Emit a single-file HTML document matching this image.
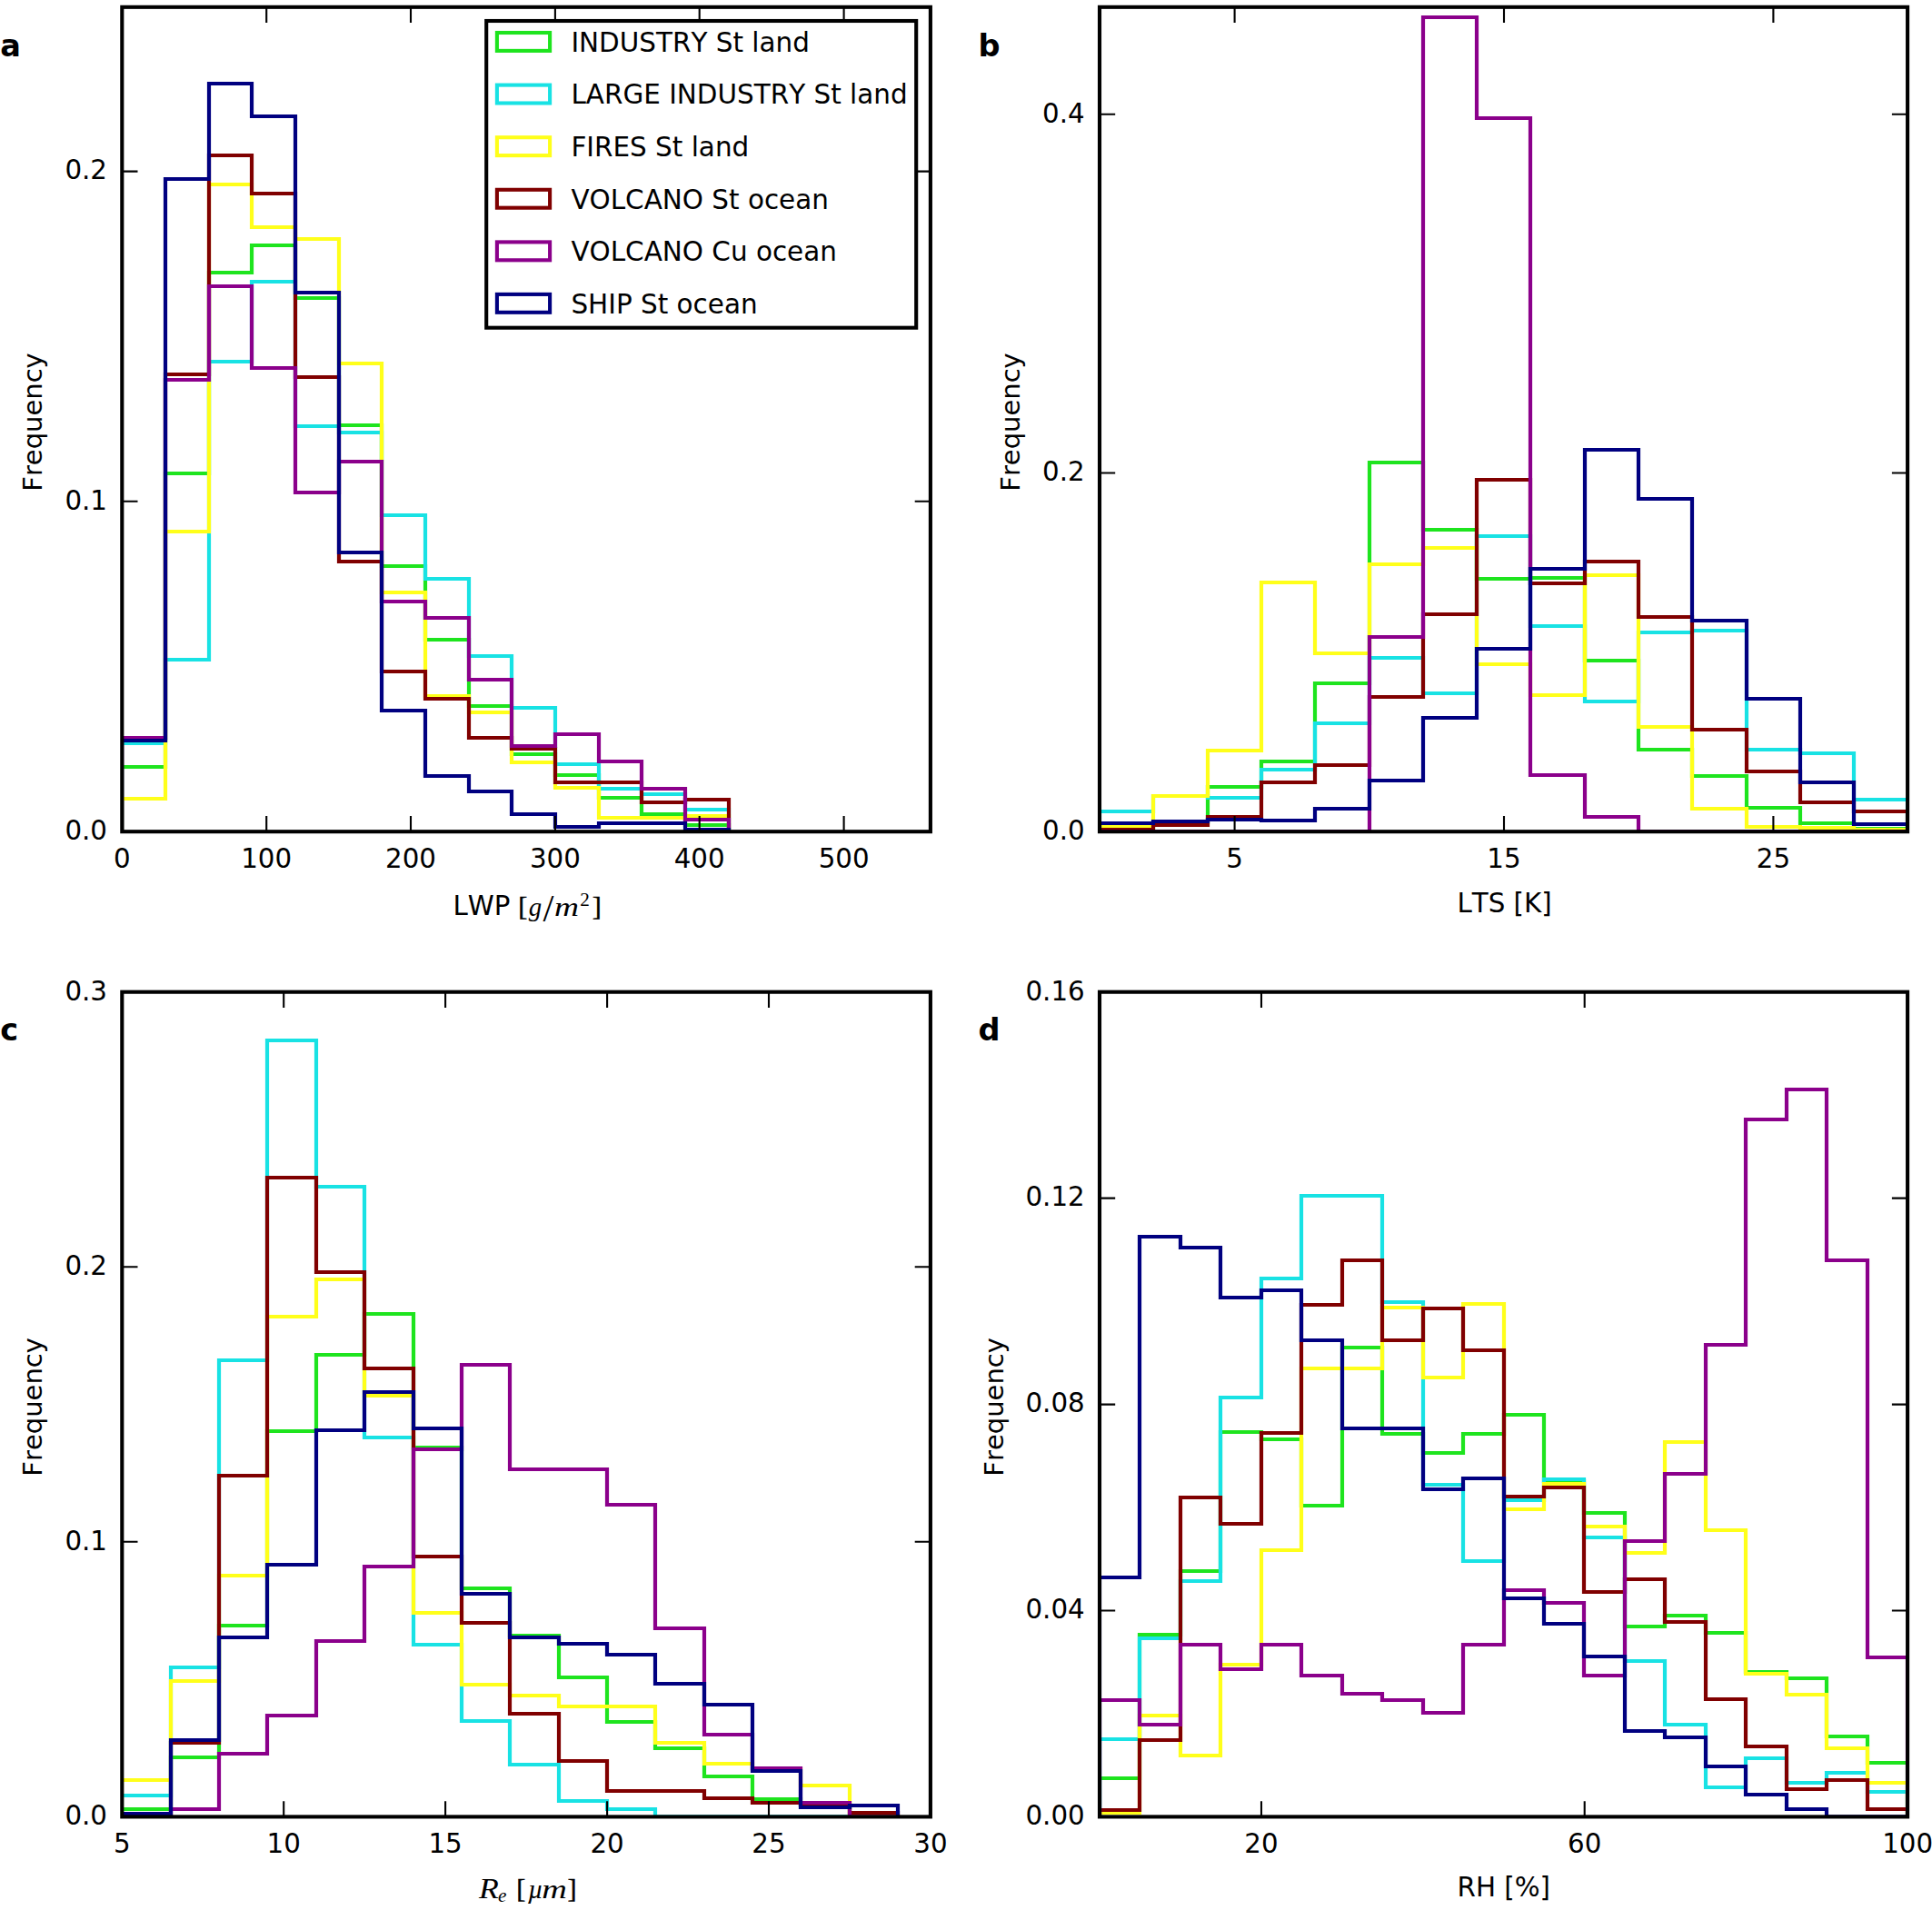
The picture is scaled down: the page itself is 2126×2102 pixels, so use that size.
<!DOCTYPE html>
<html lang="en"><head><meta charset="utf-8"><title>Frequency histograms</title>
<style>html,body{margin:0;padding:0;background:#fff}svg{display:block}text{font-family:"DejaVu Sans", "Liberation Sans", sans-serif;font-size:29.30px;fill:#000;font-kerning:none}.b{font-weight:bold;font-size:33.6px}.m{font-family:"Liberation Serif", "DejaVu Serif", serif;font-style:italic}.r{font-family:"Liberation Serif", "DejaVu Serif", serif;font-style:normal}</style></head><body>
<svg width="2126" height="2102" viewBox="0 0 2126 2102" role="img" aria-label="Four-panel frequency histograms of LWP, LTS, effective radius and RH">
<rect width="2126" height="2102" fill="#fff"/>
<defs>
<clipPath id="cpa"><rect x="134.3" y="7.8" width="889.6" height="907.4"/></clipPath>
<clipPath id="cpb"><rect x="1210" y="7.8" width="889.1" height="907.4"/></clipPath>
<clipPath id="cpc"><rect x="134.3" y="1091.7" width="889.6" height="907.7"/></clipPath>
<clipPath id="cpd"><rect x="1210" y="1091.7" width="889.1" height="907.7"/></clipPath>
</defs>
<g id="panel-a">
<g clip-path="url(#cpa)" fill="none" stroke-width="4.2" stroke-linejoin="miter">
<polyline stroke="#1ee41e" points="134,915.2 134,844 182,844 182,521 230,521 230,300 277,300 277,270 325,270 325,328 373,328 373,468 420,468 420,623 468,623 468,704 516,704 516,777 563,777 563,830 611,830 611,853 659,853 659,878 706,878 706,896 754,896 754,908 802,908 802,915.2"/>
<polyline stroke="#18e2e4" points="134,915.2 134,818 182,818 182,726 230,726 230,398 277,398 277,310 325,310 325,469 373,469 373,476 420,476 420,567 468,567 468,637 516,637 516,722 563,722 563,779 611,779 611,841 659,841 659,868 706,868 706,874 754,874 754,891 802,891 802,915.2"/>
<polyline stroke="#ffff1a" points="134,915.2 134,879 182,879 182,585 230,585 230,203 277,203 277,250 325,250 325,263 373,263 373,400 420,400 420,652 468,652 468,766 516,766 516,784 563,784 563,839 611,839 611,867 659,867 659,900 706,900 754,900 754,898 802,898 802,915.2"/>
<polyline stroke="#800000" points="134,915.2 134,813 182,813 182,412 230,412 230,171 277,171 277,213 325,213 325,415 373,415 373,618 420,618 420,739 468,739 468,769 516,769 516,812 563,812 563,824 611,824 611,861 659,861 706,861 706,883 754,883 754,880 802,880 802,915.2"/>
<polyline stroke="#8b008b" points="134,915.2 134,812 182,812 182,418 230,418 230,315 277,315 277,405 325,405 325,542 373,542 373,508 420,508 420,662 468,662 468,680 516,680 516,748 563,748 563,821 611,821 611,808 659,808 659,838 706,838 706,868 754,868 754,902 802,902 802,915.2"/>
<polyline stroke="#000080" points="134,915.2 134,815 182,815 182,197 230,197 230,92 277,92 277,128 325,128 325,322 373,322 373,608 420,608 420,782 468,782 468,854 516,854 516,871 563,871 563,896 611,896 611,910 659,910 659,906 706,906 754,906 754,913 802,913 802,915.2"/>
</g>
<rect x="134.3" y="7.8" width="889.6" height="907.4" fill="none" stroke="#000" stroke-width="4.1"/>
<path d="M134.3,915.2 v-17.2 M134.3,7.8 v17.2 M293.2,915.2 v-17.2 M293.2,7.8 v17.2 M452,915.2 v-17.2 M452,7.8 v17.2 M610.9,915.2 v-17.2 M610.9,7.8 v17.2 M769.7,915.2 v-17.2 M769.7,7.8 v17.2 M928.6,915.2 v-17.2 M928.6,7.8 v17.2 M134.3,915.2 h17.2 M1023.9,915.2 h-17.2 M134.3,551.8 h17.2 M1023.9,551.8 h-17.2 M134.3,188.6 h17.2 M1023.9,188.6 h-17.2" stroke="#000" stroke-width="2.1" fill="none"/>
<g text-anchor="middle">
<text x="134.3" y="954.5">0</text>
<text x="293.2" y="954.5">100</text>
<text x="452" y="954.5">200</text>
<text x="610.9" y="954.5">300</text>
<text x="769.7" y="954.5">400</text>
<text x="928.6" y="954.5">500</text>
</g>
<g text-anchor="end">
<text x="118" y="924">0.0</text>
<text x="118" y="560.6">0.1</text>
<text x="118" y="197.4">0.2</text>
</g>
</g>
<g id="panel-b">
<g clip-path="url(#cpb)" fill="none" stroke-width="4.2" stroke-linejoin="miter">
<polyline stroke="#1ee41e" points="1210,915.2 1210,914 1269,914 1269,905 1329,905 1329,866 1388,866 1388,838 1447,838 1447,752 1507,752 1507,509 1566,509 1566,583 1625,583 1625,637 1684,637 1684,636 1744,636 1744,727 1803,727 1803,825 1862,825 1862,854 1922,854 1922,889 1981,889 1981,906 2040,906 2040,912 2099,912 2099,915.2"/>
<polyline stroke="#18e2e4" points="1210,915.2 1210,893 1269,893 1269,876 1329,876 1329,878 1388,878 1388,847 1447,847 1447,796 1507,796 1507,724 1566,724 1566,763 1625,763 1625,590 1684,590 1684,689 1744,689 1744,772 1803,772 1803,696 1862,696 1862,694 1922,694 1922,825 1981,825 1981,829 2040,829 2040,880 2099,880 2099,915.2"/>
<polyline stroke="#ffff1a" points="1210,915.2 1210,910 1269,910 1269,876 1329,876 1329,826 1388,826 1388,641 1447,641 1447,719 1507,719 1507,621 1566,621 1566,603 1625,603 1625,731 1684,731 1684,765 1744,765 1744,633 1803,633 1803,800 1862,800 1862,890 1922,890 1922,910 1981,910 1981,911 2040,911 2040,913 2099,913 2099,915.2"/>
<polyline stroke="#800000" points="1210,915.2 1210,913 1269,913 1269,908 1329,908 1329,899 1388,899 1388,861 1447,861 1447,842 1507,842 1507,767 1566,767 1566,676 1625,676 1625,528 1684,528 1684,642 1744,642 1744,618 1803,618 1803,679 1862,679 1862,803 1922,803 1922,849 1981,849 1981,883 2040,883 2040,893 2099,893 2099,915.2"/>
<polyline stroke="#8b008b" points="1210,915.2 1269,915.2 1329,915.2 1388,915.2 1447,915.2 1507,915.2 1507,701 1566,701 1566,19 1625,19 1625,130 1684,130 1684,853 1744,853 1744,899 1803,899 1803,915.2 1862,915.2 1922,915.2 1981,915.2 2040,915.2 2099,915.2"/>
<polyline stroke="#000080" points="1210,915.2 1210,906 1269,906 1269,904 1329,904 1329,902 1388,902 1388,903 1447,903 1447,890 1507,890 1507,859 1566,859 1566,790 1625,790 1625,714 1684,714 1684,626 1744,626 1744,495 1803,495 1803,549 1862,549 1862,683 1922,683 1922,769 1981,769 1981,861 2040,861 2040,907 2099,907 2099,915.2"/>
</g>
<rect x="1210" y="7.8" width="889.1" height="907.4" fill="none" stroke="#000" stroke-width="4.1"/>
<path d="M1358.6,915.2 v-17.2 M1358.6,7.8 v17.2 M1655,915.2 v-17.2 M1655,7.8 v17.2 M1951.4,915.2 v-17.2 M1951.4,7.8 v17.2 M1210,915.2 h17.2 M2099.1,915.2 h-17.2 M1210,520.5 h17.2 M2099.1,520.5 h-17.2 M1210,125.8 h17.2 M2099.1,125.8 h-17.2" stroke="#000" stroke-width="2.1" fill="none"/>
<g text-anchor="middle">
<text x="1358.6" y="954.5">5</text>
<text x="1655" y="954.5">15</text>
<text x="1951.4" y="954.5">25</text>
</g>
<g text-anchor="end">
<text x="1193.7" y="924">0.0</text>
<text x="1193.7" y="529.3">0.2</text>
<text x="1193.7" y="134.6">0.4</text>
</g>
</g>
<g id="panel-c">
<g clip-path="url(#cpc)" fill="none" stroke-width="4.2" stroke-linejoin="miter">
<polyline stroke="#1ee41e" points="134,1999.4 134,1991 188,1991 188,1934 241,1934 241,1789 294,1789 294,1575 348,1575 348,1491 401,1491 401,1446 455,1446 455,1593 508,1593 508,1748 561,1748 561,1800 615,1800 615,1846 668,1846 668,1895 721,1895 721,1924 775,1924 775,1955 828,1955 828,1980 881,1980 881,1987 935,1987 935,1999.4 988,1999.4"/>
<polyline stroke="#18e2e4" points="134,1999.4 134,1976 188,1976 188,1835 241,1835 241,1497 294,1497 294,1145 348,1145 348,1306 401,1306 401,1582 455,1582 455,1810 508,1810 508,1894 561,1894 561,1942 615,1942 615,1982 668,1982 668,1991 721,1991 721,1999.4 775,1999.4 828,1999.4 881,1999.4 935,1999.4 988,1999.4"/>
<polyline stroke="#ffff1a" points="134,1999.4 134,1959 188,1959 188,1850 241,1850 241,1734 294,1734 294,1449 348,1449 348,1408 401,1408 401,1536 455,1536 455,1775 508,1775 508,1854 561,1854 561,1866 615,1866 615,1878 668,1878 721,1878 721,1918 775,1918 775,1941 828,1941 828,1947 881,1947 881,1965 935,1965 935,1998 988,1998 988,1999.4"/>
<polyline stroke="#800000" points="134,1999.4 188,1999.4 188,1918 241,1918 241,1624 294,1624 294,1296 348,1296 348,1400 401,1400 401,1506 455,1506 455,1713 508,1713 508,1786 561,1786 561,1886 615,1886 615,1938 668,1938 668,1971 721,1971 775,1971 775,1979 828,1979 828,1984 881,1984 881,1986 935,1986 935,1995 988,1995 988,1999.4"/>
<polyline stroke="#8b008b" points="134,1999.4 188,1999.4 188,1991 241,1991 241,1930 294,1930 294,1888 348,1888 348,1806 401,1806 401,1724 455,1724 455,1595 508,1595 508,1502 561,1502 561,1617 615,1617 668,1617 668,1656 721,1656 721,1792 775,1792 775,1909 828,1909 828,1946 881,1946 881,1984 935,1984 935,1999.4 988,1999.4"/>
<polyline stroke="#000080" points="134,1999.4 134,1996 188,1996 188,1915 241,1915 241,1802 294,1802 294,1722 348,1722 348,1574 401,1574 401,1532 455,1532 455,1572 508,1572 508,1754 561,1754 561,1802 615,1802 615,1809 668,1809 668,1821 721,1821 721,1853 775,1853 775,1876 828,1876 828,1949 881,1949 881,1989 935,1989 935,1987 988,1987 988,1999.4"/>
</g>
<rect x="134.3" y="1091.7" width="889.6" height="907.7" fill="none" stroke="#000" stroke-width="4.1"/>
<path d="M134.3,1999.4 v-17.2 M134.3,1091.7 v17.2 M312.2,1999.4 v-17.2 M312.2,1091.7 v17.2 M490.1,1999.4 v-17.2 M490.1,1091.7 v17.2 M668.1,1999.4 v-17.2 M668.1,1091.7 v17.2 M846,1999.4 v-17.2 M846,1091.7 v17.2 M1023.9,1999.4 v-17.2 M1023.9,1091.7 v17.2 M134.3,1999.4 h17.2 M1023.9,1999.4 h-17.2 M134.3,1696.8 h17.2 M1023.9,1696.8 h-17.2 M134.3,1394.3 h17.2 M1023.9,1394.3 h-17.2 M134.3,1091.7 h17.2 M1023.9,1091.7 h-17.2" stroke="#000" stroke-width="2.1" fill="none"/>
<g text-anchor="middle">
<text x="134.3" y="2039">5</text>
<text x="312.2" y="2039">10</text>
<text x="490.1" y="2039">15</text>
<text x="668.1" y="2039">20</text>
<text x="846" y="2039">25</text>
<text x="1023.9" y="2039">30</text>
</g>
<g text-anchor="end">
<text x="118" y="2008.2">0.0</text>
<text x="118" y="1705.6">0.1</text>
<text x="118" y="1403.1">0.2</text>
<text x="118" y="1100.5">0.3</text>
</g>
</g>
<g id="panel-d">
<g clip-path="url(#cpd)" fill="none" stroke-width="4.2" stroke-linejoin="miter">
<polyline stroke="#1ee41e" points="1210,1999.4 1210,1957 1254,1957 1254,1799 1299,1799 1299,1729 1343,1729 1343,1576 1388,1576 1388,1584 1432,1584 1432,1657 1477,1657 1477,1483 1521,1483 1521,1578 1566,1578 1566,1599 1610,1599 1610,1578 1655,1578 1655,1557 1699,1557 1699,1630 1743,1630 1743,1665 1788,1665 1788,1790 1832,1790 1832,1778 1877,1778 1877,1797 1921,1797 1921,1840 1966,1840 1966,1847 2010,1847 2010,1911 2055,1911 2055,1940 2099,1940 2099,1999.4"/>
<polyline stroke="#18e2e4" points="1210,1999.4 1210,1914 1254,1914 1254,1803 1299,1803 1299,1740 1343,1740 1343,1538 1388,1538 1388,1407 1432,1407 1432,1316 1477,1316 1521,1316 1521,1433 1566,1433 1566,1634 1610,1634 1610,1718 1655,1718 1655,1651 1699,1651 1699,1628 1743,1628 1743,1692 1788,1692 1788,1828 1832,1828 1832,1898 1877,1898 1877,1967 1921,1967 1921,1935 1966,1935 1966,1962 2010,1962 2010,1951 2055,1951 2055,1972 2099,1972 2099,1999.4"/>
<polyline stroke="#ffff1a" points="1210,1999.4 1210,1995 1254,1995 1254,1888 1299,1888 1299,1932 1343,1932 1343,1832 1388,1832 1388,1706 1432,1706 1432,1506 1477,1506 1521,1506 1521,1439 1566,1439 1566,1516 1610,1516 1610,1435 1655,1435 1655,1661 1699,1661 1699,1633 1743,1633 1743,1680 1788,1680 1788,1709 1832,1709 1832,1587 1877,1587 1877,1684 1921,1684 1921,1842 1966,1842 1966,1865 2010,1865 2010,1924 2055,1924 2055,1962 2099,1962 2099,1999.4"/>
<polyline stroke="#800000" points="1210,1999.4 1210,1992 1254,1992 1254,1915 1299,1915 1299,1648 1343,1648 1343,1677 1388,1677 1388,1577 1432,1577 1432,1436 1477,1436 1477,1387 1521,1387 1521,1475 1566,1475 1566,1440 1610,1440 1610,1486 1655,1486 1655,1647 1699,1647 1699,1637 1743,1637 1743,1752 1788,1752 1788,1738 1832,1738 1832,1785 1877,1785 1877,1870 1921,1870 1921,1922 1966,1922 1966,1969 2010,1969 2010,1959 2055,1959 2055,1991 2099,1991 2099,1999.4"/>
<polyline stroke="#8b008b" points="1210,1999.4 1210,1871 1254,1871 1254,1898 1299,1898 1299,1810 1343,1810 1343,1837 1388,1837 1388,1810 1432,1810 1432,1844 1477,1844 1477,1864 1521,1864 1521,1871 1566,1871 1566,1885 1610,1885 1610,1810 1655,1810 1655,1750 1699,1750 1699,1764 1743,1764 1743,1844 1788,1844 1788,1696 1832,1696 1832,1622 1877,1622 1877,1480 1921,1480 1921,1232 1966,1232 1966,1199 2010,1199 2010,1387 2055,1387 2055,1824 2099,1824 2099,1999.4"/>
<polyline stroke="#000080" points="1210,1999.4 1210,1736 1254,1736 1254,1361 1299,1361 1299,1373 1343,1373 1343,1428 1388,1428 1388,1420 1432,1420 1432,1475 1477,1475 1477,1572 1521,1572 1566,1572 1566,1639 1610,1639 1610,1627 1655,1627 1655,1759 1699,1759 1699,1787 1743,1787 1743,1823 1788,1823 1788,1905 1832,1905 1832,1912 1877,1912 1877,1944 1921,1944 1921,1975 1966,1975 1966,1991 2010,1991 2010,1999.4 2055,1999.4 2099,1999.4"/>
</g>
<rect x="1210" y="1091.7" width="889.1" height="907.7" fill="none" stroke="#000" stroke-width="4.1"/>
<path d="M1388,1999.4 v-17.2 M1388,1091.7 v17.2 M1743.7,1999.4 v-17.2 M1743.7,1091.7 v17.2 M2099.1,1999.4 v-17.2 M2099.1,1091.7 v17.2 M1210,1999.4 h17.2 M2099.1,1999.4 h-17.2 M1210,1772.5 h17.2 M2099.1,1772.5 h-17.2 M1210,1545.6 h17.2 M2099.1,1545.6 h-17.2 M1210,1318.6 h17.2 M2099.1,1318.6 h-17.2 M1210,1091.7 h17.2 M2099.1,1091.7 h-17.2" stroke="#000" stroke-width="2.1" fill="none"/>
<g text-anchor="middle">
<text x="1388" y="2039">20</text>
<text x="1743.7" y="2039">60</text>
<text x="2099.1" y="2039">100</text>
</g>
<g text-anchor="end">
<text x="1193.7" y="2008.2">0.00</text>
<text x="1193.7" y="1781.3">0.04</text>
<text x="1193.7" y="1554.4">0.08</text>
<text x="1193.7" y="1327.4">0.12</text>
<text x="1193.7" y="1100.5">0.16</text>
</g>
</g>
<text text-anchor="middle" style="font-size:29px" transform="translate(46.1,464.5) rotate(-90)">Frequency</text>
<text text-anchor="middle" style="font-size:29px" transform="translate(1121.6,464.5) rotate(-90)">Frequency</text>
<text text-anchor="middle" style="font-size:29px" transform="translate(46.1,1548.4) rotate(-90)">Frequency</text>
<text text-anchor="middle" style="font-size:29px" transform="translate(1103.5,1548.4) rotate(-90)">Frequency</text>
<text x="498.4" y="1007.4">LWP</text>
<text class="r" x="570.3" y="1006.9" style="font-size:30.2px" stroke="#000" stroke-width="0.45">[</text>
<text class="m" x="581.8" y="1007.6" style="font-size:28.8px">g</text>
<text class="r" x="597.4" y="1014.4" style="font-size:43px">/</text>
<text class="m" x="610" y="1007.8" style="font-size:28.6px" textLength="27" lengthAdjust="spacingAndGlyphs">m</text>
<text class="r" x="638.2" y="996.6" style="font-size:21.2px">2</text>
<text class="r" x="651.7" y="1006.9" style="font-size:30.2px" stroke="#000" stroke-width="0.45">]</text>
<text x="1655.6" y="1003.5" text-anchor="middle">LTS [K]</text>
<text class="m" x="527" y="2088.9" style="font-size:31.2px" textLength="21.8" lengthAdjust="spacingAndGlyphs">R</text>
<text class="m" x="548" y="2092.8" style="font-size:21.2px">e</text>
<text class="r" x="568.2" y="2087.8" style="font-size:30.2px" stroke="#000" stroke-width="0.45">[</text>
<text class="m" x="580.8" y="2088.6" style="font-size:28.6px" textLength="17" lengthAdjust="spacingAndGlyphs">µ</text>
<text class="m" x="596.2" y="2088.6" style="font-size:28.6px" textLength="27.6" lengthAdjust="spacingAndGlyphs">m</text>
<text class="r" x="624.4" y="2087.8" style="font-size:30.2px" stroke="#000" stroke-width="0.45">]</text>
<text x="1654.8" y="2086.7" text-anchor="middle">RH [%]</text>
<text class="b" x="0.2" y="62">a</text>
<text class="b" x="1076.4" y="62">b</text>
<text class="b" x="0.2" y="1145">c</text>
<text class="b" x="1076.4" y="1145">d</text>
<g id="legend">
<rect x="535.2" y="23" width="473" height="337.7" fill="#fff" stroke="#000" stroke-width="4.1"/>
<rect x="546.9" y="36" width="58.2" height="19.9" fill="none" stroke="#1ee41e" stroke-width="4.1"/>
<text x="628.4" y="56.8" style="font-size:29.45px">INDUSTRY St land</text>
<rect x="546.9" y="93.6" width="58.2" height="19.9" fill="none" stroke="#18e2e4" stroke-width="4.1"/>
<text x="628.4" y="114.4" style="font-size:29.45px">LARGE INDUSTRY St land</text>
<rect x="546.9" y="151.2" width="58.2" height="19.9" fill="none" stroke="#ffff1a" stroke-width="4.1"/>
<text x="628.4" y="172" style="font-size:29.45px">FIRES St land</text>
<rect x="546.9" y="208.8" width="58.2" height="19.9" fill="none" stroke="#800000" stroke-width="4.1"/>
<text x="628.4" y="229.6" style="font-size:29.45px">VOLCANO St ocean</text>
<rect x="546.9" y="266.4" width="58.2" height="19.9" fill="none" stroke="#8b008b" stroke-width="4.1"/>
<text x="628.4" y="287.2" style="font-size:29.45px">VOLCANO Cu ocean</text>
<rect x="546.9" y="323.9" width="58.2" height="19.9" fill="none" stroke="#000080" stroke-width="4.1"/>
<text x="628.4" y="344.8" style="font-size:29.45px">SHIP St ocean</text>
</g>
</svg></body></html>
